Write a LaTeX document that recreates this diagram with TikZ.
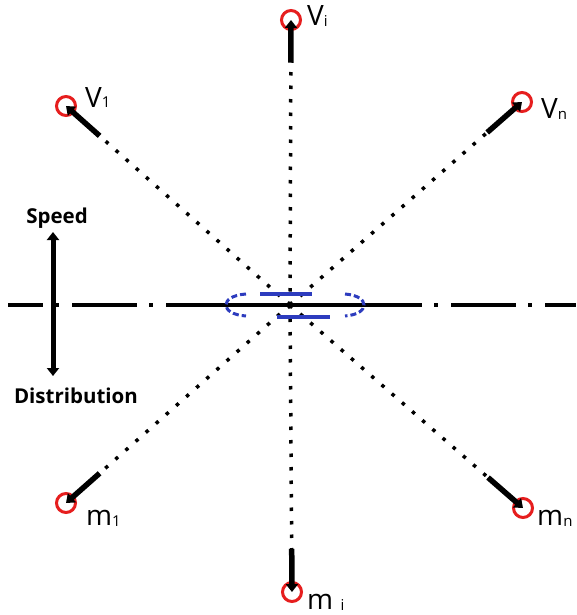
\documentclass[tikz,border=0pt]{standalone}
\usepackage{fontspec}
\setmainfont{Open Sans}
\usetikzlibrary{arrows.meta,calc}
\definecolor{ringred}{RGB}{230,30,30}
\definecolor{lensblue}{RGB}{45,60,190}
\newcommand{\lsub}[1]{{\fontsize{15}{15}\selectfont\raisebox{-1pt}{#1}}}
\begin{document}
\begin{tikzpicture}[x=1pt,y=-1pt,
  endpt/.style={circle,draw=ringred,line width=3pt,minimum size=19pt,inner sep=0pt},
  ray/.style={line width=3.5pt,dash pattern=on 3.5pt off 10pt},
  feed/.style={line width=5.5pt,-{Triangle[length=8pt,width=12pt]}},
  lbl/.style={inner sep=0pt,anchor=base west,font=\fontsize{28}{28}\selectfont},
  axislbl/.style={inner sep=0pt,font=\fontsize{20.5}{20.5}\selectfont\bfseries},
  axisline/.style={line width=3.5pt,dash pattern=on 65pt off 12pt on 4pt off 13pt}
]
\useasboundingbox (0,0) rectangle (576,615);
\coordinate (c) at (290,305);
% axis line
\coordinate (hl) at (8,305);
\coordinate (hml) at (225,305);
\coordinate (hmr) at (362,305);
\coordinate (hr) at (576,305);
\draw[axisline,dash phase=30pt] (hl) -- (hml);
\draw[line width=3.5pt] (hml) -- (hmr);
\draw[axisline,dash phase=5pt] (hmr) -- (hr);
% end points
\node[endpt] (vi) at (291,20) {};
\node[endpt] (v1) at (66,106) {};
\node[endpt] (vn) at (522,102) {};
\node[endpt] (m1) at (66,503) {};
\node[endpt] (mn) at (523,508) {};
\node[endpt] (mi) at (292,592) {};
\foreach \p in {vi,v1,vn,m1,mn,mi}{
  \draw[ray] (c) -- ($(c)!0.85!(\p.center)$);
  \draw[feed] ($(c)!0.85!(\p.center)$) -- (\p.center);
}
% labels
\node[lbl] (lvi) at (307,26) {V\lsub{i}};
\node[lbl] (lv1) at (85,107) {V\lsub{1}};
\node[lbl] (lvn) at (541,118) {V\lsub{n}};
\node[lbl] (lm1) at (86,525) {m\lsub{1}};
\node[lbl] (lmn) at (537,525) {m\lsub{n}};
\node[lbl] (lmi) at (307,609) {m\ \lsub{i}};
% speed / distribution
\node[axislbl] (sp) at (57,218) {Speed};
\node[axislbl] (di) at (76,396) {Distribution};
\coordinate (st) at (53,232);
\coordinate (sb) at (53,376);
\draw[line width=5pt,{Triangle[length=8pt,width=12pt]}-{Triangle[length=8pt,width=12pt]}] (st) -- (sb);
% blue lens
\coordinate (bl) at (226,305);
\coordinate (br) at (364,305);
\draw[lensblue,line width=3pt,dash pattern=on 6pt off 3pt] (246,294) .. controls (232,295) and (226,300) .. (bl) .. controls (226,310) and (232,315) .. (246,316);
\draw[lensblue,line width=3pt,dash pattern=on 6pt off 3pt] (345,294) .. controls (358,295) and (364,300) .. (br) .. controls (364,310) and (358,315) .. (345,316);
\coordinate (t1) at (260,294);
\coordinate (t2) at (312,294);
\coordinate (b1) at (277,317);
\coordinate (b2) at (330,317);
\draw[lensblue,line width=3.5pt] (t1) -- (t2);
\draw[lensblue,line width=3.5pt] (b1) -- (b2);
\end{tikzpicture}
\end{document}
